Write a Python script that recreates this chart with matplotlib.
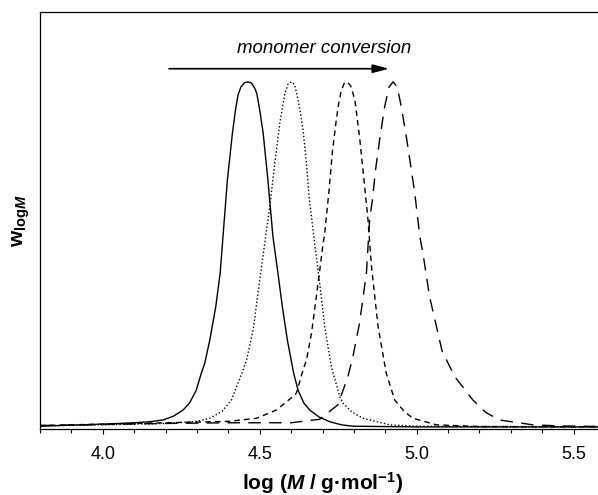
#!/usr/bin/env python
# molecular weight distributions at increasing monomer conversion
import matplotlib
matplotlib.use('Agg')
import matplotlib.pyplot as plt

# curve 1 (solid)
solid_logM = [3.80, 3.90, 4.00, 4.10, 4.15, 4.192, 4.225, 4.256, 4.277, 4.298, 4.314, 4.325, 4.341,
              4.360, 4.374, 4.383, 4.397, 4.413, 4.423, 4.431, 4.440, 4.452, 4.463, 4.474, 4.485,
              4.491, 4.500, 4.511, 4.526, 4.542, 4.558, 4.572, 4.588, 4.608, 4.622, 4.640, 4.659,
              4.690, 4.723, 4.760, 4.797, 5.00, 5.60]
solid_w = [0.002, 0.005, 0.008, 0.012, 0.015, 0.020, 0.031, 0.049, 0.070, 0.107, 0.156, 0.185, 0.252,
           0.349, 0.446, 0.552, 0.716, 0.851, 0.920, 0.962, 0.985, 0.998, 1.000, 0.996, 0.980,
           0.965, 0.918, 0.851, 0.716, 0.552, 0.446, 0.349, 0.252, 0.156, 0.107, 0.070, 0.049,
           0.028, 0.015, 0.006, 0.002, 0.0, 0.0]

# curve 2 (dotted)
dot_logM = [3.80, 4.00, 4.20, 4.30, 4.341, 4.380, 4.410, 4.447, 4.458, 4.479, 4.500, 4.519, 4.532,
            4.548, 4.564, 4.573, 4.580, 4.590, 4.601, 4.611, 4.617, 4.627, 4.638, 4.649, 4.657,
            4.675, 4.691, 4.707, 4.728, 4.755, 4.765, 4.795, 4.829, 4.914, 5.00, 5.60]
dot_w = [0.003, 0.006, 0.010, 0.016, 0.025, 0.045, 0.078, 0.165, 0.194, 0.281, 0.426, 0.552, 0.639,
         0.764, 0.880, 0.930, 0.965, 0.993, 1.000, 0.992, 0.970, 0.925, 0.861, 0.764, 0.668,
         0.532, 0.417, 0.291, 0.175, 0.088, 0.069, 0.042, 0.025, 0.006, 0.002, 0.0]

# curve 3 (short dash)
sdash_logM = [3.80, 4.00, 4.20, 4.40, 4.490, 4.553, 4.606, 4.617, 4.638, 4.649, 4.665, 4.686, 4.702,
              4.707, 4.721, 4.731, 4.744, 4.752, 4.760, 4.769, 4.778, 4.790, 4.803, 4.818, 4.831,
              4.845, 4.856, 4.877, 4.903, 4.930, 4.960, 4.988, 5.063, 5.20, 5.60]
sdash_w = [0.004, 0.008, 0.012, 0.016, 0.025, 0.049, 0.088, 0.098, 0.165, 0.194, 0.272, 0.417, 0.532,
           0.561, 0.687, 0.793, 0.890, 0.940, 0.975, 0.995, 1.000, 0.988, 0.948, 0.841, 0.726,
           0.600, 0.465, 0.291, 0.156, 0.078, 0.045, 0.025, 0.006, 0.001, 0.0]

# curve 4 (long dash)
ldash_logM = [3.80, 4.00, 4.20, 4.40, 4.60, 4.691, 4.749, 4.781, 4.797, 4.818, 4.840, 4.850, 4.859,
              4.869, 4.882, 4.898, 4.912, 4.925, 4.938, 4.951, 4.967, 4.983, 4.994, 5.010, 5.020,
              5.041, 5.063, 5.081, 5.121, 5.179, 5.220, 5.264, 5.370, 5.450, 5.60]
ldash_w = [0.004, 0.007, 0.010, 0.012, 0.012, 0.022, 0.064, 0.146, 0.204, 0.301, 0.446, 0.600, 0.658,
           0.745, 0.832, 0.928, 0.985, 1.000, 0.985, 0.928, 0.841, 0.745, 0.677, 0.552, 0.503,
           0.378, 0.291, 0.220, 0.146, 0.078, 0.042, 0.020, 0.006, 0.003, 0.001]

xticks = [4.0, 4.5, 5.0, 5.5]
xticklabels = ['4.0', '4.5', '5.0', '5.5']

plt.rcParams['font.family'] = ['Liberation Sans', 'DejaVu Sans']
plt.rcParams['mathtext.fontset'] = 'custom'
plt.rcParams['mathtext.rm'] = 'Liberation Sans:bold'
plt.rcParams['mathtext.it'] = 'Liberation Sans:italic:bold'
plt.rcParams['mathtext.bf'] = 'Liberation Sans:bold'

fig = plt.figure(figsize=(5.98, 4.95), dpi=100)
# axes runs past the right edge of the picture (cropped like the original)
ax = fig.add_axes([0.0669, 0.1327, 0.9448, 0.8435])

lw = 1.0
ax.plot(solid_logM, solid_w, color='k', lw=lw, linestyle='-')
ax.plot(dot_logM, dot_w, color='k', lw=lw, linestyle=(0, (1.0, 1.6)))
ax.plot(sdash_logM, sdash_w, color='k', lw=lw, linestyle=(0, (4.0, 3.0)))
ax.plot(ldash_logM, ldash_w, color='k', lw=lw, linestyle=(0, (9.0, 6.0)))

# arrow + label
ax.annotate('', xy=(4.912, 1.038), xytext=(4.211, 1.038),
            arrowprops=dict(arrowstyle='-|>,head_length=0.65,head_width=0.17', color='k',
                            lw=1.2, mutation_scale=15, shrinkA=0, shrinkB=0))
ax.text(4.706, 1.098, 'monomer conversion', fontsize=13.4, fontstyle='italic',
        ha='center', va='center')

ax.set_xlim(3.8, 5.6)
ax.set_ylim(-0.007, 1.203)
ax.set_xticks(xticks)
ax.set_xticklabels(xticklabels, fontsize=13)
ax.set_xticks([3.8 + 0.1 * i for i in range(19)], minor=True)
ax.tick_params(axis='x', which='major', direction='out', length=3.8, width=0.8, pad=8)
ax.tick_params(axis='x', which='minor', direction='out', length=2.8, width=0.8)
ax.set_yticks([])
for s in ax.spines.values():
    s.set_linewidth(0.9)

ax.set_xlabel(r'log ($M$ / g·mol$^{-1}$)', fontsize=15, fontweight='bold', labelpad=5)
ax.set_ylabel(r'$\mathrm{w}_{\mathrm{log}M}$', fontsize=15, labelpad=6)

fig.savefig('out.png', dpi=100)
